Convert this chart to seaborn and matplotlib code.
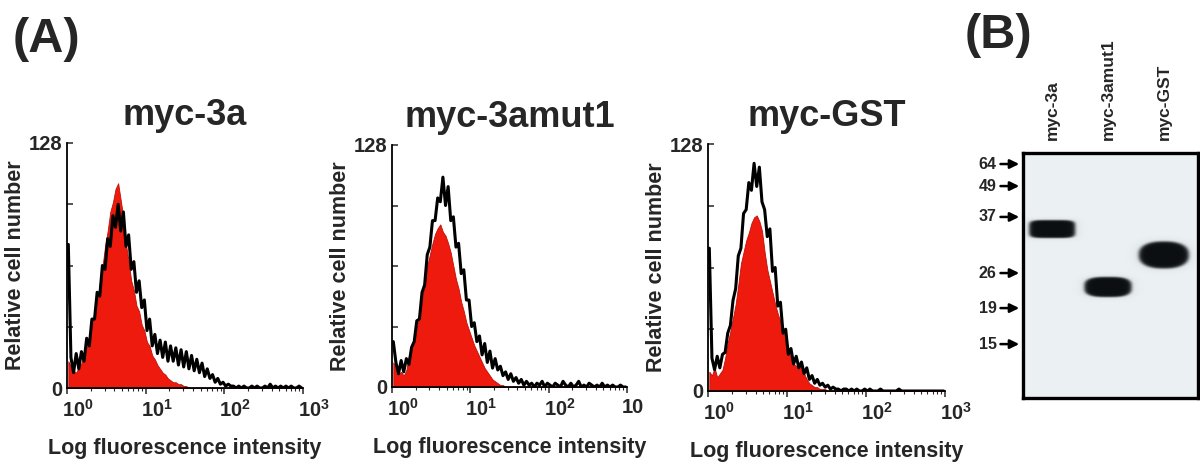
import numpy as np
import matplotlib
matplotlib.use("Agg")
import matplotlib.pyplot as plt
import matplotlib.transforms as mtransforms
from matplotlib.ticker import LogLocator, NullFormatter
import seaborn as sns

# ---------------- data ----------------
panel_titles = ["myc-3a", "myc-3amut1", "myc-GST"]

# histogram counts, 90 channels spanning 10^0 .. 10^3 (30 per decade)
red_3a = [14, 11, 9, 8, 11, 13, 18, 21, 27, 32,
          40, 45, 55, 63, 74, 82, 92, 97, 104, 107,
          98, 89, 75, 66, 56, 51, 43, 40, 33, 30,
          24, 22, 17, 15, 12, 10, 8, 7, 5, 4,
          3, 3, 2, 2, 1, 1, 0, 0, 0, 0,
          0, 0, 0, 0, 0, 0, 0, 0, 0, 0,
          0, 0, 0, 0, 0, 0, 0, 0, 0, 0,
          0, 0, 0, 0, 0, 0, 0, 0, 0, 0,
          0, 0, 0, 0, 0, 0, 0, 0, 0, 0]
black_3a = [75, 16, 8, 18, 10, 19, 14, 26, 22, 36,
            36, 50, 48, 64, 62, 78, 74, 90, 84, 96,
            82, 92, 74, 80, 62, 66, 50, 56, 42, 46,
            30, 36, 22, 28, 18, 25, 16, 24, 14, 22,
            14, 21, 12, 20, 11, 19, 10, 17, 9, 15,
            8, 13, 6, 10, 5, 7, 3, 5, 2, 3,
            1, 2, 1, 1, 0, 1, 0, 1, 0, 0,
            1, 0, 1, 0, 0, 1, 0, 2, 0, 1,
            0, 1, 0, 1, 0, 1, 0, 0, 1, 0]

red_mut1 = [13, 10, 7, 8, 6, 9, 17, 22, 25, 31,
            38, 46, 55, 64, 70, 76, 81, 84, 86, 82,
            80, 76, 71, 64, 57, 52, 45, 40, 34, 30,
            26, 22, 19, 16, 13, 10, 8, 6, 4, 3,
            2, 1, 1, 0, 0, 0, 0, 0, 0, 0,
            0, 0, 0, 0, 0, 0, 0, 0, 0, 0,
            0, 0, 0, 0, 0, 0, 0, 0, 0, 0,
            0, 0, 0, 0, 0, 0, 0, 0, 0, 0,
            0, 0, 0, 0, 0, 0, 0, 0, 0, 0]
black_mut1 = [24, 13, 7, 14, 8, 15, 12, 21, 24, 35,
              36, 50, 54, 70, 74, 88, 88, 100, 98, 111,
              96, 106, 88, 90, 74, 76, 60, 62, 46, 46,
              32, 34, 24, 27, 17, 23, 13, 19, 10, 15,
              9, 11, 6, 8, 4, 7, 3, 5, 2, 4,
              1, 3, 1, 2, 0, 2, 1, 3, 0, 2,
              1, 0, 2, 1, 0, 3, 1, 0, 2, 0,
              1, 3, 0, 1, 0, 2, 1, 0, 1, 0,
              2, 0, 1, 0, 1, 0, 0, 1, 0, 0]

red_gst = [10, 8, 12, 7, 9, 11, 17, 25, 31, 38,
           45, 55, 66, 72, 78, 82, 87, 90, 91, 88,
           83, 72, 63, 57, 51, 45, 40, 36, 32, 28,
           21, 17, 14, 13, 14, 12, 9, 6, 4, 3,
           2, 2, 1, 1, 1, 0, 0, 0, 0, 0,
           0, 0, 0, 0, 0, 0, 0, 0, 0, 0,
           0, 0, 0, 0, 0, 0, 0, 0, 0, 0,
           0, 0, 0, 0, 0, 0, 0, 0, 0, 0,
           0, 0, 0, 0, 0, 0, 0, 0, 0, 0]
black_gst = [74, 17, 11, 18, 12, 19, 20, 30, 34, 47,
             53, 70, 74, 92, 94, 108, 104, 118, 106, 116,
             98, 94, 80, 84, 62, 64, 44, 46, 30, 32,
             19, 22, 14, 18, 12, 15, 9, 12, 6, 8,
             4, 6, 3, 4, 2, 3, 1, 2, 1, 1,
             0, 1, 1, 0, 1, 0, 1, 0, 0, 1,
             0, 1, 0, 0, 0, 1, 0, 0, 0, 0,
             0, 0, 1, 0, 0, 0, 0, 0, 0, 0,
             0, 0, 0, 0, 0, 0, 0, 0, 0, 0]

xtick_values = [1, 10, 100, 1000]
xtick_labels = [r"$\mathbf{10}^{0}$", r"$\mathbf{10}^{1}$", r"$\mathbf{10}^{2}$", r"$\mathbf{10}^{3}$"]
xtick_labels_mid = [r"$\mathbf{10}^{0}$", r"$\mathbf{10}^{1}$", r"$\mathbf{10}^{2}$", "10"]
ytick_values = [0, 32, 64, 96, 128]
ytick_labels = ["0", "", "", "", "128"]
xlabel = "Log fluorescence intensity"
ylabel = "Relative cell number"

# western blot (panel B)
lane_labels = ["myc-3a", "myc-3amut1", "myc-GST"]
marker_kda = ["64", "49", "37", "26", "19", "15"]
marker_migration = [0.045, 0.135, 0.261, 0.490, 0.633, 0.780]   # fraction of blot height
band_migration = [0.310, 0.547, 0.416]
band_width = [0.82, 0.84, 0.89]      # in lane units
band_height = [0.073, 0.082, 0.110]  # fraction of blot height
band_squareness = [5.0, 3.0, 2.4]

# ---------------- style ----------------
sns.set_theme(style="white")
plt.rcParams["font.family"] = ["Liberation Sans", "DejaVu Sans"]
plt.rcParams["font.weight"] = "bold"
plt.rcParams["mathtext.fontset"] = "custom"
plt.rcParams["mathtext.rm"] = "Liberation Sans"
plt.rcParams["mathtext.bf"] = "Liberation Sans:bold"
plt.rcParams["axes.labelweight"] = "bold"
plt.rcParams["axes.titleweight"] = "bold"

W, H = 1200, 468
fig = plt.figure(figsize=(W / 100, H / 100), dpi=100)
fig.patch.set_facecolor("white")


def rect(left, right, top, bottom):
    return [left / W, (H - bottom) / H, (right - left) / W, (bottom - top) / H]


panel_rects = [rect(67, 303, 143, 388), rect(392, 627, 145, 387), rect(708, 945, 144, 391)]
panel_data = [(red_3a, black_3a), (red_mut1, black_mut1), (red_gst, black_gst)]
RED = "#ee1a0e"

for i, (r, title, (red, black)) in enumerate(zip(panel_rects, panel_titles, panel_data)):
    ax = fig.add_axes(r)
    ax.set_xscale("log")
    n = len(red)
    centers = np.power(10.0, (np.arange(n) + 0.5) * 3.0 / n)
    ax.fill_between(centers, red, color=RED, lw=0.6, edgecolor="#c01008", zorder=1)
    sns.lineplot(x=centers, y=black, color="black", lw=2.2, estimator=None,
                 ax=ax, zorder=2)
    ax.set_xlim(1, 1000)
    ax.set_ylim(0, 128)
    labels = xtick_labels_mid if i == 1 else xtick_labels
    ax.set_xticks(xtick_values, labels=labels)
    ax.xaxis.set_minor_locator(LogLocator(base=10, subs=np.arange(2, 10) * 1.0))
    ax.xaxis.set_minor_formatter(NullFormatter())
    ax.set_yticks(ytick_values, labels=ytick_labels)
    ax.tick_params(axis="x", which="major", direction="out", length=4, width=1.1,
                   labelsize=14.5, pad=4, bottom=True)
    ax.tick_params(axis="x", which="minor", direction="out", length=2, width=0.8, bottom=True)
    ax.tick_params(axis="y", which="major", direction="in", length=4, width=1.1,
                   labelsize=14.5, pad=3, left=True)
    offset = mtransforms.ScaledTranslation(-5 / 100, 0, fig.dpi_scale_trans)
    for lbl in ax.get_xticklabels():
        lbl.set_horizontalalignment("left")
        lbl.set_transform(lbl.get_transform() + offset)
    for side in ["top", "right"]:
        ax.spines[side].set_visible(False)
    for side in ["left", "bottom"]:
        ax.spines[side].set_color("black")
        ax.spines[side].set_linewidth(1.3)
    ax.set_facecolor("white")
    ax.set_title(title, fontsize=26, fontweight="bold", pad=13)
    ax.set_xlabel(xlabel, fontsize=15.5, fontweight="bold", labelpad=12)
    ax.set_ylabel(ylabel, fontsize=15.5, fontweight="bold", labelpad=2)

fig.text(13 / W, 1 - 17 / H, "(A)", fontsize=35, fontweight="bold", ha="left", va="top")
fig.text(965 / W, 1 - 13 / H, "(B)", fontsize=35, fontweight="bold", ha="left", va="top")

# ---------------- panel B: blot ----------------
axb = fig.add_axes(rect(1023, 1198, 153, 398))
xl = (-0.518, 2.607)
xs = np.linspace(xl[0], xl[1], 360)
ys = np.linspace(0, 1, 500)
X, Y = np.meshgrid(xs, ys)
dark = np.zeros_like(X)
for lane, pos, w, h, m in zip(range(len(lane_labels)), band_migration, band_width,
                               band_height, band_squareness):
    rr = (np.abs((X - lane) / (w / 2)) ** m + np.abs((Y - pos) / (h / 2)) ** m) ** (1 / m)
    core = 1 / (1 + np.exp((rr - 1) / 0.05))
    halo = 0.10 * np.exp(-np.clip(rr - 1, 0, None) * 6)
    dark = np.maximum(dark, np.maximum(core, halo))
bg = np.array([0.925, 0.945, 0.955])
ink = np.array([0.05, 0.06, 0.07])
img = bg * (1 - dark[..., None]) + ink * dark[..., None]
axb.imshow(img, extent=(xl[0], xl[1], 1, 0), aspect="auto", interpolation="bilinear")
axb.set_xlim(xl)
axb.set_ylim(1, 0)
axb.set_xticks([])
axb.set_yticks([])
for s in axb.spines.values():
    s.set_visible(True)
    s.set_color("black")
    s.set_linewidth(2.4)

for kda, pos in zip(marker_kda, marker_migration):
    axb.annotate("", xy=(-0.585, pos), xytext=(-0.92, pos),
                 arrowprops=dict(arrowstyle="-|>,head_length=0.45,head_width=0.22",
                                 color="black", lw=1.8, shrinkA=0, shrinkB=0),
                 annotation_clip=False)
    axb.text(-0.99, pos, kda, ha="right", va="center", fontsize=11.5,
             fontweight="bold", clip_on=False)

for i, lab in enumerate(lane_labels):
    axb.text(i, 1.052, lab, rotation=90, ha="center", va="bottom",
             transform=axb.get_xaxis_transform(), fontsize=12.5, fontweight="bold")

fig.savefig("out.png", dpi=100, facecolor="white")
